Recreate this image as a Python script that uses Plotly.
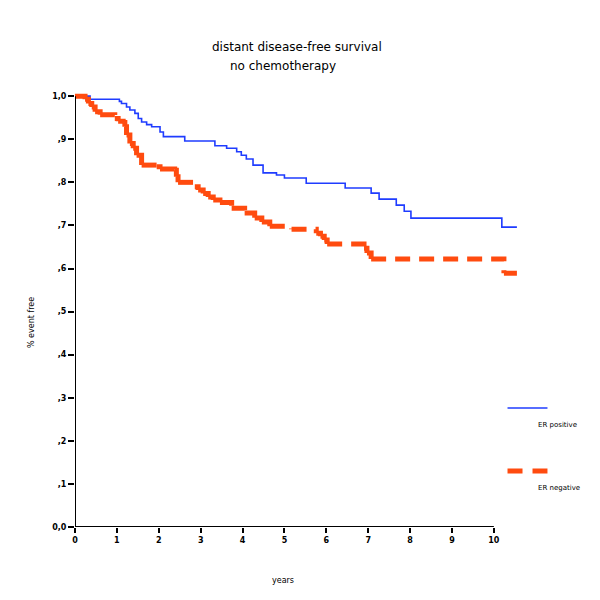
import plotly.graph_objects as go

# ---- data ----
er_pos_years = [0, 0.36, 1.06, 1.11, 1.23, 1.31, 1.43, 1.51, 1.59, 1.71, 1.83, 2.03, 2.11,
                2.62, 3.34, 3.62, 3.86, 3.97, 4.09, 4.25, 4.49, 4.81, 5.0, 5.52, 6.45,
                7.07, 7.26, 7.67, 7.86, 8.02, 10.19, 10.55]
er_pos_surv = [1.0, 0.993, 0.988, 0.983, 0.975, 0.968, 0.96, 0.948, 0.94, 0.934, 0.929, 0.917, 0.906,
               0.896, 0.885, 0.879, 0.871, 0.863, 0.854, 0.84, 0.822, 0.817, 0.81, 0.798, 0.787,
               0.775, 0.761, 0.747, 0.733, 0.717, 0.696, 0.696]

er_neg_years = [0, 0.24, 0.32, 0.40, 0.48, 0.60, 0.95, 1.03, 1.15, 1.19, 1.23, 1.31, 1.39, 1.47,
                1.59, 1.95, 2.03, 2.38, 2.42, 2.46, 2.86, 2.94, 3.06, 3.18, 3.30, 3.46, 3.74,
                4.05, 4.29, 4.46, 4.65, 5.17, 5.76, 5.86, 5.95, 6.02, 6.9, 6.97, 7.07, 10.24, 10.55]
er_neg_surv = [1.0, 0.993, 0.983, 0.975, 0.964, 0.957, 0.948, 0.942, 0.939, 0.929, 0.91, 0.89, 0.879, 0.863,
               0.84, 0.836, 0.831, 0.828, 0.813, 0.80, 0.79, 0.782, 0.774, 0.766, 0.759, 0.753, 0.74,
               0.729, 0.717, 0.708, 0.698, 0.691, 0.682, 0.675, 0.666, 0.657, 0.647, 0.636, 0.622, 0.589, 0.589]

x_ticks = list(range(0, 11))
x_tick_labels = [str(v) for v in x_ticks]
y_ticks = [0.0, 0.1, 0.2, 0.3, 0.4, 0.5, 0.6, 0.7, 0.8, 0.9, 1.0]
y_tick_labels = ["0,0", ",1", ",2", ",3", ",4", ",5", ",6", ",7", ",8", ",9", "1,0"]

title_lines = ["distant disease-free survival", "no chemotherapy"]
x_title = "years"
y_title = "% event free"
series_names = ["ER positive", "ER negative"]

BLUE = "#1f3cff"
ORANGE = "#ff4b0f"
FONT = "DejaVu Sans"


def step_subpaths(xs, ys):
    """Build step path where each step (flat + drop) is its own subpath,
    so the dash pattern restarts at every step (as in the original)."""
    px, py = [], []
    for i in range(len(xs) - 1):
        px += [xs[i], xs[i + 1], xs[i + 1], None]
        py += [ys[i], ys[i], ys[i + 1], None]
    return px, py


fig = go.Figure()
fig.add_trace(go.Scatter(x=er_pos_years, y=er_pos_surv, mode="lines", line_shape="hv",
                         line=dict(color=BLUE, width=1.6), name=series_names[0], showlegend=False))
nx, ny = step_subpaths(er_neg_years, er_neg_surv)
fig.add_trace(go.Scatter(x=nx, y=ny, mode="lines", connectgaps=False,
                         line=dict(color=ORANGE, width=5, dash="15px,9px"), name=series_names[1],
                         showlegend=False))

OFF = 8  # page body offset
L, R_px, T, B_px = 67, 88.5, 83, 81
PW = 600 - L - R_px
PH = 600 - T - B_px

fig.update_layout(
    width=600, height=600,
    margin=dict(l=L, r=R_px, t=T, b=B_px, pad=0),
    plot_bgcolor="white", paper_bgcolor="white",
    font=dict(family=FONT, color="black"),
    xaxis=dict(range=[0, 10.6], tickvals=x_ticks, ticktext=["<b>%s</b>" % t for t in x_tick_labels],
               showgrid=False, zeroline=False, showline=False, ticks="outside", ticklen=5, tickwidth=2,
               tickcolor="black", tickfont=dict(size=8, family=FONT, color="black")),
    yaxis=dict(range=[0, 1.012], tickvals=y_ticks, ticktext=["<b>%s</b>" % t for t in y_tick_labels],
               showgrid=False, zeroline=False, showline=False, ticks="outside", ticklen=6, tickwidth=2,
               tickcolor="black", tickfont=dict(size=8, family=FONT, color="black")),
)

# axis lines (only spanning the tick range)
fig.add_shape(type="line", xref="x", yref="y", x0=0, x1=10, y0=0, y1=0,
              line=dict(color="black", width=2))
fig.add_shape(type="line", xref="x", yref="y", x0=0, x1=0, y0=0, y1=1.0,
              line=dict(color="black", width=2))


def px_x(p):
    return (p - OFF - L) / PW


def px_y(p):
    return 1 - (p - OFF - T) / PH


# titles
fig.add_annotation(text=title_lines[0], xref="paper", yref="paper", x=px_x(297), y=px_y(47),
                   showarrow=False, font=dict(size=12, family=FONT), xanchor="center", yanchor="middle")
fig.add_annotation(text=title_lines[1], xref="paper", yref="paper", x=px_x(283), y=px_y(66),
                   showarrow=False, font=dict(size=12, family=FONT), xanchor="center", yanchor="middle")

# axis titles
fig.add_annotation(text=x_title, xref="paper", yref="paper", x=px_x(283), y=px_y(580),
                   showarrow=False, font=dict(size=8, family=FONT), xanchor="center", yanchor="middle")
fig.add_annotation(text=y_title, xref="paper", yref="paper", x=px_x(31), y=px_y(323),
                   showarrow=False, font=dict(size=8, family=FONT), textangle=-90,
                   xanchor="center", yanchor="middle")

# manual legend
fig.add_shape(type="line", xref="paper", yref="paper", x0=px_x(508), x1=px_x(548),
              y0=px_y(408), y1=px_y(408), line=dict(color=BLUE, width=1.6))
fig.add_annotation(text=series_names[0], xref="paper", yref="paper", x=px_x(537), y=px_y(425),
                   showarrow=False, font=dict(size=7, family=FONT), xanchor="left", yanchor="middle")
fig.add_shape(type="line", xref="paper", yref="paper", x0=px_x(508), x1=px_x(548),
              y0=px_y(471), y1=px_y(471), line=dict(color=ORANGE, width=5, dash="15px,10px"))
fig.add_annotation(text=series_names[1], xref="paper", yref="paper", x=px_x(537), y=px_y(488),
                   showarrow=False, font=dict(size=7, family=FONT), xanchor="left", yanchor="middle")

fig.write_html("out.html")
